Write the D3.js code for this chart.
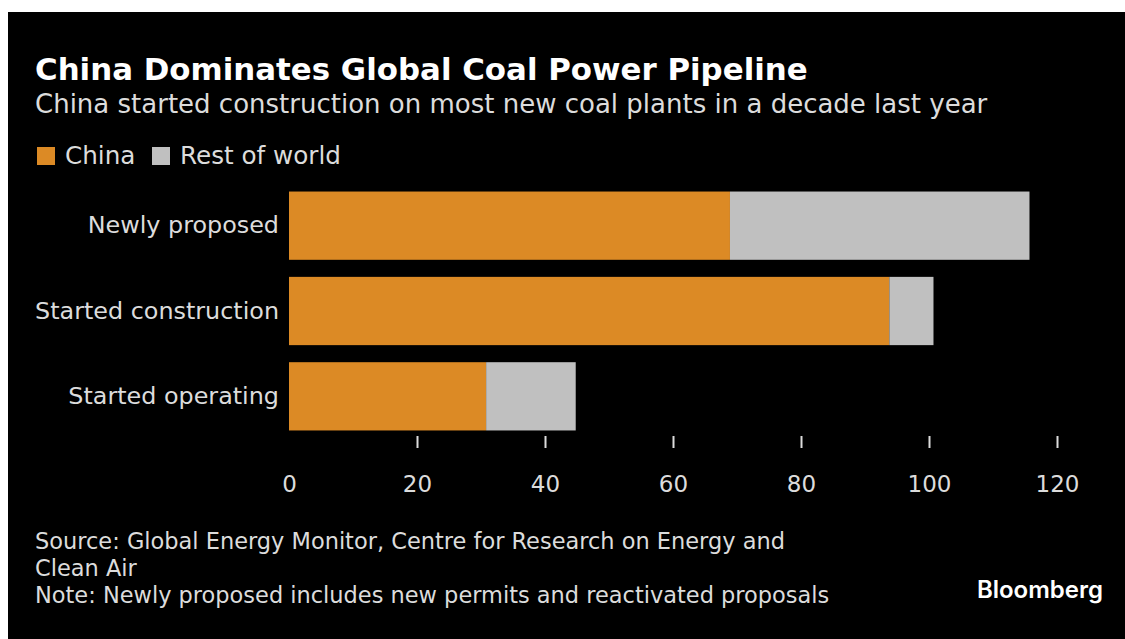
<!DOCTYPE html>
<html>
<head>
<meta charset="utf-8">
<script src="https://cdn.jsdelivr.net/npm/d3@7"></script>
<style>
  html, body { margin: 0; padding: 0; background: #fff; }
  svg { display: block; }
  text { font-family: "DejaVu Sans", sans-serif; }
</style>
</head>
<body>
<svg id="chart"></svg>
<script>
// chart data
const categories = ["Newly proposed", "Started construction", "Started operating"];
const china = [68.9, 93.8, 30.8];
const restOfWorld = [46.8, 6.9, 14.0];
const seriesNames = ["China", "Rest of world"];
const tickValues = [0, 20, 40, 60, 80, 100, 120];

window.addEventListener('load', e => {
    drawChart();
});

// shrink or grow a text so it spans the given width
function fitWidth(node, target) {
    let size = parseFloat(node.getAttribute("font-size"));
    let w = node.getComputedTextLength();
    let s = size * target / w;
    node.setAttribute("font-size", s);
    return s;
}

function drawChart() {
    let width = 1125;
    let height = 639;
    let colors = ["#dc8a25", "#c0c0c0"];
    let textColor = "#dcdcdc";

    let svg = d3.select("#chart")
                .attr("width", width)
                .attr("height", height);

    svg.append("rect")
       .attr("x", 8)
       .attr("y", 12)
       .attr("width", width - 8)
       .attr("height", height - 12)
       .attr("fill", "#000");

    let title = svg.append("text")
       .attr("x", 35)
       .attr("y", 80)
       .attr("fill", "#fff")
       .attr("font-size", 30)
       .attr("font-weight", "bold")
       .text("China Dominates Global Coal Power Pipeline");
    fitWidth(title.node(), 773);

    let subtitle = svg.append("text")
       .attr("x", 35)
       .attr("y", 113)
       .attr("fill", textColor)
       .attr("font-size", 24)
       .text("China started construction on most new coal plants in a decade last year");
    fitWidth(subtitle.node(), 953);

    // legend
    let legendX = [37, 152];
    let legend = svg.selectAll(".legend")
                    .data(seriesNames)
                    .enter()
                    .append("g")
                    .attr("class", "legend")
                    .attr("transform", (d, i) => "translate(" + legendX[i] + ",147)");
    legend.append("rect")
          .attr("width", 18)
          .attr("height", 18)
          .attr("fill", (d, i) => colors[i]);
    let legendText = legend.append("text")
          .attr("x", 28)
          .attr("y", 17)
          .attr("fill", textColor)
          .attr("font-size", 22)
          .text(d => d);
    let legendSize = fitWidth(legendText.nodes()[1], 161);
    legendText.attr("font-size", legendSize);

    let xScale = d3.scaleLinear()
                   .domain([0, 120])
                   .range([289, 1057]);

    let yScale = d3.scaleBand()
                   .domain(categories)
                   .range([183, 439])
                   .paddingInner(0.2)
                   .paddingOuter(0.1);

    let stackData = categories.map((c, i) => ({ category: c, China: china[i], "Rest of world": restOfWorld[i] }));
    let stacked = d3.stack().keys(seriesNames)(stackData);

    svg.selectAll(".series")
       .data(stacked)
       .enter()
       .append("g")
       .attr("class", "series")
       .attr("fill", (d, i) => colors[i])
       .selectAll("rect")
       .data(d => d)
       .enter()
       .append("rect")
       .attr("x", d => xScale(d[0]))
       .attr("y", d => yScale(d.data.category))
       .attr("width", d => xScale(d[1]) - xScale(d[0]))
       .attr("height", yScale.bandwidth());

    // category labels
    let yAxis = svg.append("g")
       .attr("transform", "translate(289,0)")
       .call(d3.axisLeft(yScale).tickSize(0).tickPadding(10))
       .call(g => g.select(".domain").remove());
    let catText = yAxis.selectAll("text")
       .attr("fill", textColor)
       .attr("font-size", 22)
       .attr("font-family", "DejaVu Sans, sans-serif");
    let catSize = fitWidth(catText.nodes()[1], 244);
    catText.attr("font-size", catSize);

    // x axis
    let xAxis = svg.append("g")
                   .attr("transform", "translate(0,436)")
                   .call(d3.axisBottom(xScale).tickValues(tickValues).tickSize(12).tickPadding(28))
                   .call(g => g.select(".domain").remove());
    xAxis.selectAll(".tick line")
         .attr("stroke", textColor)
         .attr("stroke-width", 2)
         .attr("opacity", d => d === 0 ? 0 : 1);
    xAxis.selectAll(".tick text")
         .attr("fill", textColor)
         .attr("font-size", 23)
         .attr("font-family", "DejaVu Sans, sans-serif");

    // footer
    let notes = [
        "Source: Global Energy Monitor, Centre for Research on Energy and",
        "Clean Air",
        "Note: Newly proposed includes new permits and reactivated proposals"
    ];
    let noteText = svg.selectAll(".note")
       .data(notes)
       .enter()
       .append("text")
       .attr("class", "note")
       .attr("x", 35)
       .attr("y", (d, i) => 549 + i * 27)
       .attr("fill", textColor)
       .attr("font-size", 20)
       .text(d => d);
    let noteSize = fitWidth(noteText.nodes()[0], 750);
    noteText.attr("font-size", noteSize);

    svg.append("text")
       .attr("x", 1103)
       .attr("y", 598)
       .attr("text-anchor", "end")
       .attr("fill", "#fff")
       .attr("font-size", 24)
       .attr("font-weight", 600)
       .style("font-family", "Inter, sans-serif")
       .text("Bloomberg");
}
</script>
</body>
</html>
